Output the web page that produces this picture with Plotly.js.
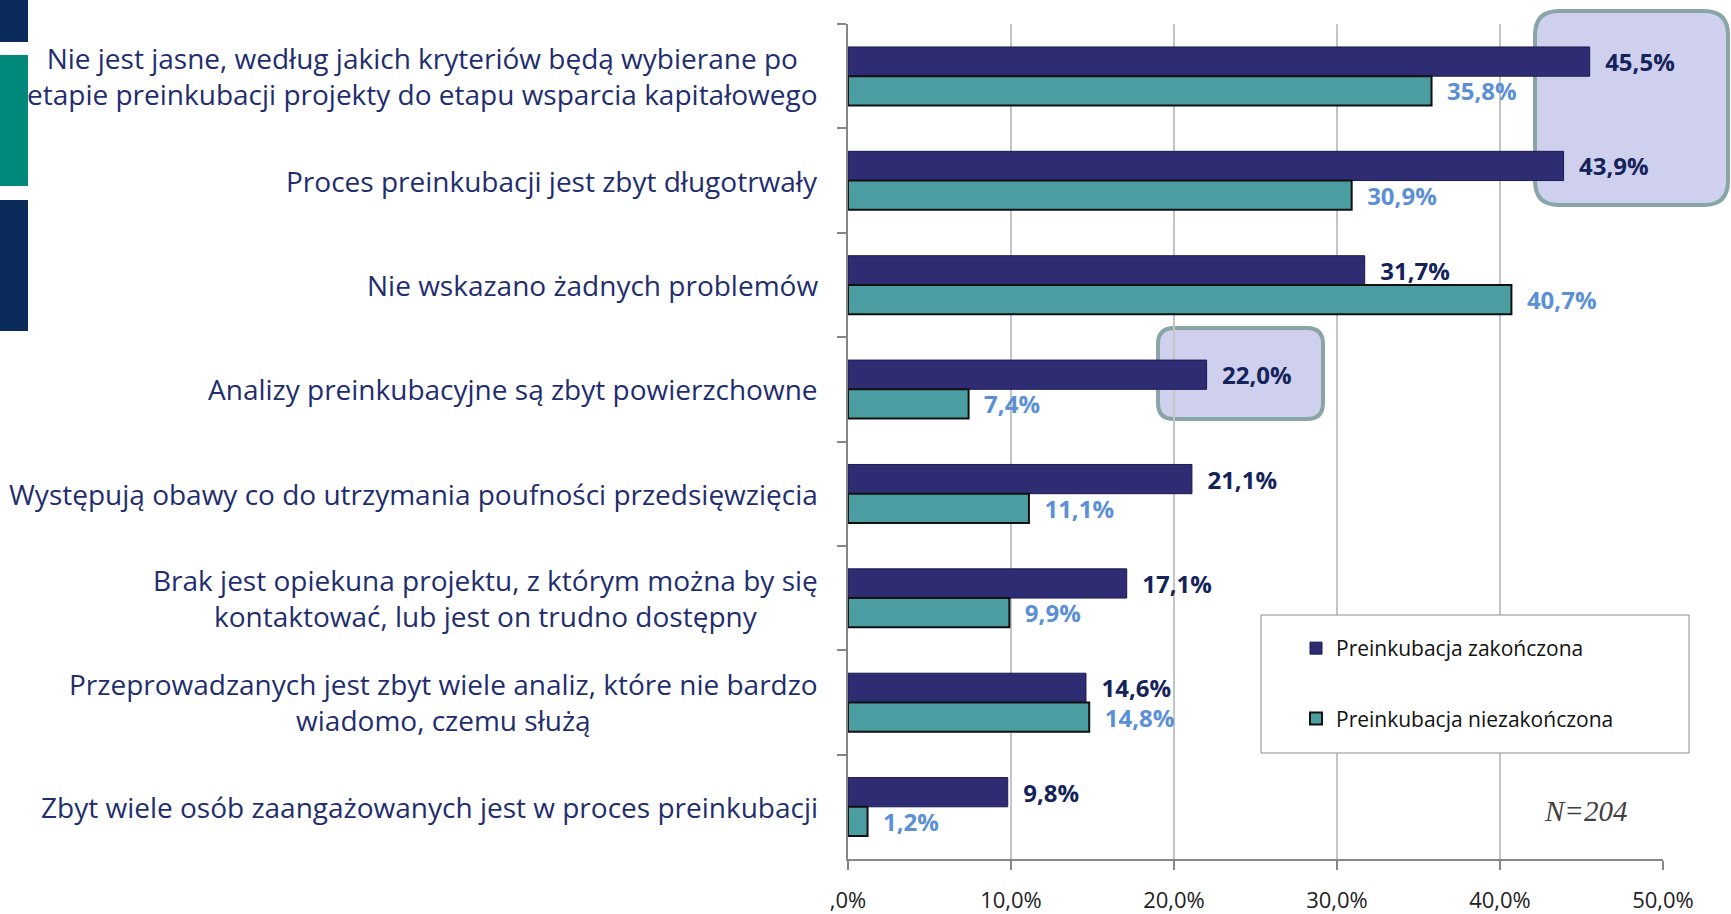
<!DOCTYPE html>
<html>
<head>
<meta charset="utf-8">
<script src="https://cdn.plot.ly/plotly-3.0.1.min.js"></script>
<style>html,body{margin:0;padding:0;background:#fff;}#chart{width:1731px;height:914px;}</style>
</head>
<body>
<div id="chart"></div>
<script>
const categories = [
  "Nie jest jasne, według jakich kryteriów będą wybierane po<br>etapie preinkubacji projekty do etapu wsparcia kapitałowego",
  "Proces preinkubacji jest zbyt długotrwały",
  "Nie wskazano żadnych problemów",
  "Analizy preinkubacyjne są zbyt powierzchowne",
  "Występują obawy co do utrzymania poufności przedsięwzięcia",
  "Brak jest opiekuna projektu, z którym można by się<br>kontaktować, lub jest on trudno dostępny",
  "Przeprowadzanych jest zbyt wiele analiz, które nie bardzo<br>wiadomo, czemu służą",
  "Zbyt wiele osób zaangażowanych jest w proces preinkubacji"
];
const seriesNames = ["Preinkubacja zakończona", "Preinkubacja niezakończona"];
const completed = [45.5, 43.9, 31.7, 22.0, 21.1, 17.1, 14.6, 9.8];
const notCompleted = [35.8, 30.9, 40.7, 7.4, 11.1, 9.9, 14.8, 1.2];
const xTickVals = [0, 10, 20, 30, 40, 50];
const xTickText = [",0%", "10,0%", "20,0%", "30,0%", "40,0%", "50,0%"];
const sampleNote = "N=204";

// layout geometry (pixels)
const W = 1731, H = 914;
const L = 848, R = 1663, T = 24, B = 859;
const px = x => (x - L) / (R - L);
const py = y => (B - y) / (B - T);
function roundRect(x0, y0, x1, y1, r) {
  const rx = r / (R - L), ry = r / (B - T);
  const a = px(x0), b = px(x1), c = py(y0), d = py(y1);
  return `M${a + rx},${c} L${b - rx},${c} Q${b},${c} ${b},${c - ry} L${b},${d + ry} Q${b},${d} ${b - rx},${d} L${a + rx},${d} Q${a},${d} ${a},${d + ry} L${a},${c - ry} Q${a},${c} ${a + rx},${c} Z`;
}
const fmt = v => "\u00a0\u00a0" + v.toFixed(1).replace(".", ",") + "%";

const traces = [
  {
    type: "bar", orientation: "h", name: seriesNames[0], legendgroup: "a",
    y: categories, x: completed,
    marker: {color: "#2e2c73", line: {color: "#1b1a4f", width: 1}},
    text: completed.map(fmt), textposition: "outside", constraintext: "none", cliponaxis: false,
    textfont: {family: "Open Sans", size: 24, color: "#14245a", weight: "bold"},
    hoverinfo: "x"
  },
  {
    type: "bar", orientation: "h", name: seriesNames[1], legendgroup: "b",
    y: categories, x: notCompleted,
    marker: {color: "#4a9ea1", line: {color: "#111111", width: 2}},
    text: notCompleted.map(fmt), textposition: "outside", constraintext: "none", cliponaxis: false,
    textfont: {family: "Open Sans", size: 24, color: "#5b8fd6", weight: "bold"},
    hoverinfo: "x"
  }
];

const annotations = categories.map(c => ({
  xref: "paper", yref: "y", x: px(820), y: c, xanchor: "right", yanchor: "middle",
  text: c, align: "center", showarrow: false,
  font: {family: "Open Sans", size: 28, color: "#1f2e6e"}
}));
annotations.push({
  xref: "paper", yref: "paper", x: px(1585), y: py(811), xanchor: "center", yanchor: "middle",
  text: "<i>" + sampleNote + "</i>", showarrow: false,
  font: {family: "Liberation Serif", size: 29, color: "#404040"}
});

const shapes = [
  {type: "rect", xref: "paper", yref: "paper", x0: px(0), x1: px(28), y0: py(0), y1: py(42), fillcolor: "#0b2c5b", line: {width: 0}},
  {type: "rect", xref: "paper", yref: "paper", x0: px(0), x1: px(28), y0: py(55), y1: py(186), fillcolor: "#00897a", line: {width: 0}},
  {type: "rect", xref: "paper", yref: "paper", x0: px(0), x1: px(28), y0: py(200), y1: py(331), fillcolor: "#0b2c5b", line: {width: 0}},
  {type: "path", xref: "paper", yref: "paper", path: roundRect(1535, 11, 1728, 205, 24), fillcolor: "#cfcfee", line: {color: "#8aa5a5", width: 4}, layer: "below"},
  {type: "path", xref: "paper", yref: "paper", path: roundRect(1158, 328, 1323, 419, 16), fillcolor: "#cfcfee", line: {color: "#8aa5a5", width: 4}, layer: "below"},
  {type: "rect", xref: "paper", yref: "paper", x0: px(1261), x1: px(1689), y0: py(615), y1: py(753), fillcolor: "#ffffff", line: {color: "#8c8c8c", width: 1}, layer: "above"}
];

const layout = {
  width: W, height: H,
  margin: {l: L, r: W - R, t: T, b: H - B, pad: 0},
  paper_bgcolor: "#ffffff", plot_bgcolor: "rgba(0,0,0,0)",
  barmode: "group", bargap: 0.44, bargroupgap: 0,
  font: {family: "Open Sans", color: "#222"},
  xaxis: {
    range: [0, 50], tickvals: xTickVals, ticktext: xTickText,
    showgrid: true, gridcolor: "#c4c4c4", gridwidth: 1.5,
    showline: true, linecolor: "#868686", linewidth: 2,
    ticks: "outside", ticklen: 9, tickcolor: "#868686", tickwidth: 2,
    ticklabelstandoff: 12,
    tickfont: {family: "Open Sans", size: 22, color: "#222"},
    zeroline: false, fixedrange: true
  },
  yaxis: {
    autorange: "reversed", type: "category",
    showticklabels: false, showgrid: false,
    showline: true, linecolor: "#868686", linewidth: 2,
    ticks: "outside", ticklen: 9, tickcolor: "#868686", tickwidth: 2, tickson: "boundaries",
    fixedrange: true
  },
  legend: {
    x: px(1296), y: py(628), xanchor: "left", yanchor: "top",
    bgcolor: "rgba(0,0,0,0)", borderwidth: 0,
    traceorder: "grouped", tracegroupgap: 40,
    font: {family: "Open Sans", size: 21, color: "#111"}
  },
  annotations: annotations,
  shapes: shapes,
  showlegend: true
};

Plotly.newPlot("chart", traces, layout, {displayModeBar: false, staticPlot: true});
</script>
</body>
</html>
